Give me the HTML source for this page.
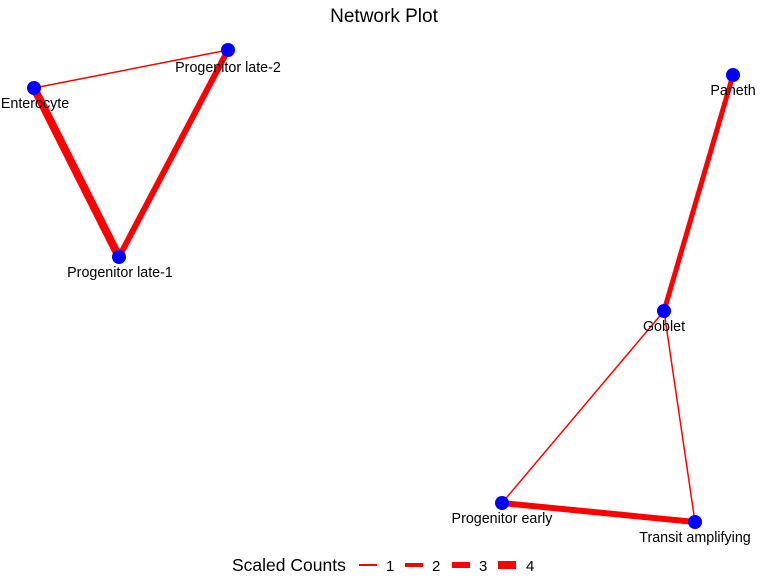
<!DOCTYPE html>
<html><head><style>body{margin:0;background:#fff}</style></head><body>
<svg width="768" height="576" xmlns="http://www.w3.org/2000/svg" font-family="Liberation Sans, sans-serif">
<rect width="768" height="576" fill="#fff"/>
<text x="384" y="22" font-size="19" text-anchor="middle" fill="#000">Network Plot</text>
<g stroke="#f00" stroke-linecap="butt">
<line x1="34" y1="88" x2="228" y2="50" stroke-width="1.5"/>
<line x1="34" y1="88" x2="119" y2="257" stroke-width="8"/>
<line x1="119" y1="257" x2="228" y2="50" stroke-width="6"/>
<line x1="733" y1="75" x2="664" y2="311" stroke-width="5"/>
<line x1="664" y1="311" x2="502" y2="503" stroke-width="1.5"/>
<line x1="664" y1="311" x2="695" y2="522" stroke-width="1.5"/>
<line x1="502" y1="503" x2="695" y2="522" stroke-width="6"/>
</g>
<g fill="#00f">
<circle cx="34" cy="88" r="7"/><circle cx="228" cy="50" r="7"/><circle cx="119" cy="257" r="7"/>
<circle cx="733" cy="75" r="7"/><circle cx="664" cy="311" r="7"/><circle cx="502" cy="503" r="7"/><circle cx="695" cy="522" r="7"/>
</g>
<g font-size="14.3" fill="#000" text-anchor="middle">
<text x="35" y="108">Enterocyte</text>
<text x="228" y="72">Progenitor late-2</text>
<text x="120" y="277">Progenitor late-1</text>
<text x="733" y="95">Paneth</text>
<text x="664" y="331">Goblet</text>
<text x="502" y="523">Progenitor early</text>
<text x="695" y="542">Transit amplifying</text>
</g>
<text x="232" y="571" font-size="17.5" fill="#000">Scaled Counts</text>
<g stroke="#f00">
<line x1="359" y1="565" x2="377" y2="565" stroke-width="2"/>
<line x1="405" y1="565" x2="423" y2="565" stroke-width="4"/>
<line x1="452" y1="565" x2="470" y2="565" stroke-width="6"/>
<line x1="498" y1="565" x2="516" y2="565" stroke-width="8"/>
</g>
<g font-size="15" fill="#000">
<text x="386" y="571">1</text><text x="432" y="571">2</text><text x="479" y="571">3</text><text x="526" y="571">4</text>
</g>
</svg>
</body></html>
